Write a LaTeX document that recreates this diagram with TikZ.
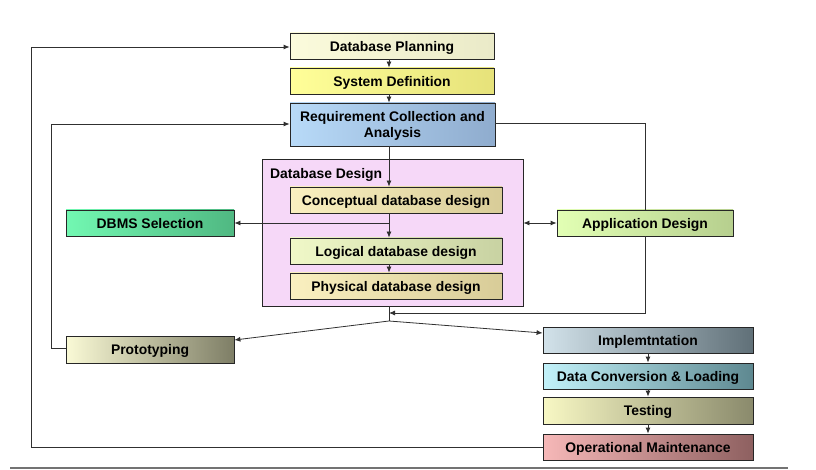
\documentclass[tikz,border=0pt]{standalone}
\usepackage{fontspec}
\setmainfont{Liberation Sans}
\usetikzlibrary{arrows.meta,shadows}
\definecolor{dpL}{HTML}{FBFBDC}\definecolor{dpR}{HTML}{EAEAC8}
\definecolor{sdL}{HTML}{FFFF99}\definecolor{sdR}{HTML}{E6E27A}
\definecolor{reqL}{HTML}{B8DAF8}\definecolor{reqR}{HTML}{8FACCE}
\definecolor{ddFill}{HTML}{F6D8F8}
\definecolor{cddL}{HTML}{FAF0C0}\definecolor{cddR}{HTML}{D8CC98}
\definecolor{lddL}{HTML}{F0F8C8}\definecolor{lddR}{HTML}{C8D2A2}
\definecolor{dbmsL}{HTML}{72F8B2}\definecolor{dbmsR}{HTML}{50B882}
\definecolor{appL}{HTML}{E2FFB4}\definecolor{appR}{HTML}{B6CF8E}
\definecolor{protoL}{HTML}{FAFAD6}\definecolor{protoR}{HTML}{7E7E66}
\definecolor{implL}{HTML}{D2E2EA}\definecolor{implR}{HTML}{607078}
\definecolor{dclL}{HTML}{C2F2FA}\definecolor{dclR}{HTML}{5E8890}
\definecolor{testL}{HTML}{F8F8C4}\definecolor{testR}{HTML}{8A8A6C}
\definecolor{omL}{HTML}{F6B8B8}\definecolor{omR}{HTML}{8E6060}
\definecolor{lineC}{HTML}{303030}
\tikzset{
  stagebox/.style={draw=black!85, line width=0.8pt, inner sep=0pt, align=center,
    font=\fontsize{13.9}{16}\selectfont\bfseries, minimum height=26pt, text depth=0pt,
    drop shadow={shadow xshift=1.2pt, shadow yshift=-1.2pt, fill=black, opacity=0.35}},
  grad/.style 2 args={left color=#1, right color=#2},
  conn/.style={draw=lineC, line width=0.8pt},
  arr/.style={conn, -{Latex[length=6pt,width=5pt]}},
  darr/.style={conn, {Latex[length=6pt,width=5pt]}-{Latex[length=6pt,width=5pt]}},
}
\begin{document}
\begin{tikzpicture}[x=1pt,y=-1pt]
\useasboundingbox (0,0) rectangle (816,470);
% container
\node[draw=black!85, line width=0.8pt, fill=ddFill, minimum width=261pt, minimum height=147pt, inner sep=0pt] (dd) at (392.5,232.5) {};
\node[anchor=west, font=\fontsize{13.9}{16}\selectfont\bfseries, inner sep=0pt, text depth=0pt] (ddt) at (270,173.5) {Database Design};
% boxes
\node[stagebox, grad={dpL}{dpR}, minimum width=204pt] (dp) at (392,46) {Database Planning};
\node[stagebox, grad={sdL}{sdR}, minimum width=204pt] (sd) at (392,81) {System Definition};
\node[stagebox, grad={reqL}{reqR}, minimum width=205pt, minimum height=43pt] (req) at (392.5,124.5) {Requirement Collection and\\Analysis};
\node[stagebox, grad={cddL}{cddR}, minimum width=212pt] (cdd) at (396,200) {Conceptual database design};
\node[stagebox, grad={lddL}{lddR}, minimum width=212pt] (ldd) at (396,251) {Logical database design};
\node[stagebox, grad={cddL}{cddR}, minimum width=212pt] (pdd) at (396,286) {Physical database design};
\node[stagebox, grad={dbmsL}{dbmsR}, minimum width=168pt] (dbms) at (150,223) {DBMS Selection};
\node[stagebox, grad={appL}{appR}, minimum width=176pt] (app) at (645,223) {Application Design};
\node[stagebox, grad={protoL}{protoR}, minimum width=168pt, minimum height=27pt] (proto) at (150,349.5) {Prototyping};
\node[stagebox, grad={implL}{implR}, minimum width=210pt] (impl) at (648,340) {Implemtntation};
\node[stagebox, grad={dclL}{dclR}, minimum width=210pt] (dcl) at (648,376) {Data Conversion \& Loading};
\node[stagebox, grad={testL}{testR}, minimum width=210pt, minimum height=27pt] (test) at (648,410.5) {Testing};
\node[stagebox, grad={omL}{omR}, minimum width=210pt] (om) at (648,447) {Operational Maintenance};
% coordinates
\coordinate (cx) at (389,0);
\coordinate (br) at (389,223);
\coordinate (j) at (389,321);
\coordinate (fb) at (389,313);
% vertical flow
\draw[arr] (cx |- dp.south) -- (cx |- sd.north);
\draw[arr] (cx |- sd.south) -- (cx |- req.north);
\draw[arr] (cx |- req.south) -- (cx |- cdd.north);
\draw[arr] (cx |- cdd.south) -- (cx |- ldd.north);
\draw[arr] (br) -- (dbms.east);
\draw[arr] (cx |- ldd.south) -- (cx |- pdd.north);
\draw[conn] (cx |- dd.south) -- (j);
\draw[arr] (j) -- ([yshift=9.5pt]proto.east);
\draw[arr] (j) -- ([yshift=7pt]impl.west);
\draw[arr] (impl.south) -- (dcl.north);
\draw[arr] (dcl.south) -- (test.north);
\draw[arr] (test.south) -- (om.north);
% application design loop
\draw[conn] ([yshift=1.5pt]req.east) -| (app.north);
\draw[arr] (app.south) |- (fb);
\draw[darr] (dd.east |- app.west) -- (app.west);
% feedback loops
\draw[arr] ([yshift=1.5pt]proto.west) -- ++(-14,0) |- ([yshift=0.5pt]req.west);
\draw[arr] (om.west) -- (31,447) |- ([yshift=-1pt]dp.west);
% bottom rule
\draw[draw=black!55, line width=2pt] (10,467.5) -- (788,467.5);
\end{tikzpicture}
\end{document}
